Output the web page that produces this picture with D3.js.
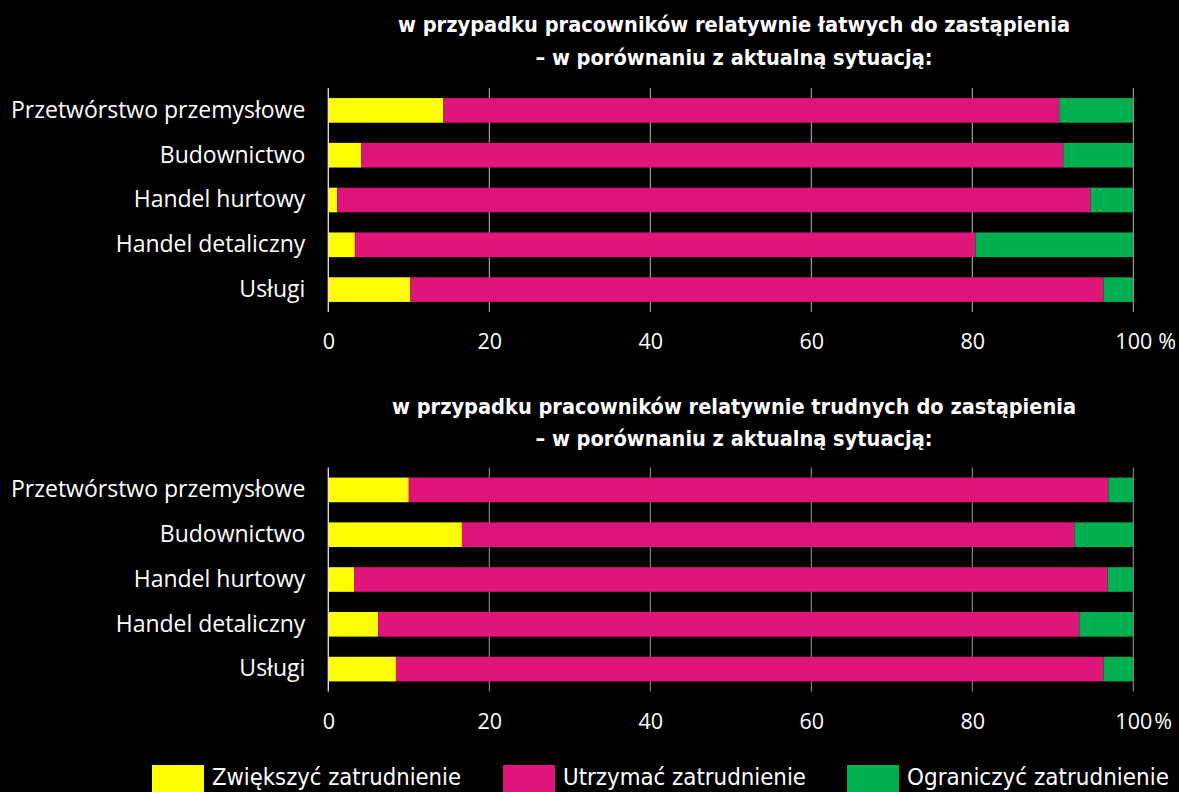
<!DOCTYPE html>
<html>
<head>
<meta charset="utf-8">
<script src="https://cdn.jsdelivr.net/npm/d3@7"></script>
<style>
  html, body { margin: 0; padding: 0; background: #000; }
  svg { display: block; }
</style>
</head>
<body>
<svg id="chart" width="1179" height="792"></svg>
<script>
const categories = ["Przetwórstwo przemysłowe", "Budownictwo", "Handel hurtowy", "Handel detaliczny", "Usługi"];
const seriesNames = ["Zwiększyć zatrudnienie", "Utrzymać zatrudnienie", "Ograniczyć zatrudnienie"];
const colors = ["#FFFF00", "#DF1579", "#00AF50"];

// Panel 1: łatwych do zastąpienia
const easyIncrease = [14.3, 4.1, 1.1, 3.3, 10.2];
const easyKeep     = [76.5, 87.2, 93.6, 77.1, 86.1];
const easyReduce   = [9.2, 8.7, 5.3, 19.6, 3.7];

// Panel 2: trudnych do zastąpienia
const hardIncrease = [10.0, 16.6, 3.2, 6.2, 8.4];
const hardKeep     = [86.9, 76.1, 93.6, 87.1, 87.9];
const hardReduce   = [3.1, 7.3, 3.2, 6.7, 3.7];

const tickValues = [0, 20, 40, 60, 80, 100];

const title1 = ["w przypadku pracowników relatywnie łatwych do zastąpienia", "– w porównaniu z aktualną sytuacją:"];
const title2 = ["w przypadku pracowników relatywnie trudnych do zastąpienia", "– w porównaniu z aktualną sytuacją:"];

const svg = d3.select("#chart");
const labelFont = "'Open Sans', 'Noto Sans', sans-serif";
const condFont = "'Liberation Sans Narrow', 'DejaVu Sans Condensed', 'Roboto', sans-serif";

const x = d3.scaleLinear().domain([0, 100]).range([328.3, 1133.3]);

function panel(cfg) {
  const { inc, keep, red, y0, y1, titleLines, titleY, titleW, tickLabelY, gridColor, pctGap } = cfg;
  const y = d3.scaleBand().domain(categories).range([y0, y1]).paddingInner(0.45).paddingOuter(0.225);
  const g = svg.append("g");

  // title
  titleLines.forEach((t, i) => {
    g.append("text")
      .attr("x", 734).attr("y", titleY[i])
      .attr("text-anchor", "middle")
      .attr("fill", "#fff")
      .attr("font-family", condFont)
      .attr("font-weight", "bold")
      .attr("font-size", 22)
      .attr("textLength", titleW[i])
      .attr("lengthAdjust", "spacingAndGlyphs")
      .text(t);
  });

  // gridlines
  g.append("g").selectAll("line").data(tickValues.slice(1)).join("line")
    .attr("x1", d => x(d)).attr("x2", d => x(d))
    .attr("y1", y0).attr("y2", y1)
    .attr("stroke", gridColor).attr("stroke-width", 1);

  // bars
  const rows = categories.map((c, i) => ({ c, vals: [inc[i], keep[i], red[i]] }));
  const stackData = rows.map(r => {
    let acc = 0;
    return r.vals.map((v, k) => { const s = acc; acc += v; return { c: r.c, k, s, e: acc }; });
  }).flat();
  g.append("g").selectAll("rect").data(stackData).join("rect")
    .attr("x", d => x(d.s))
    .attr("width", d => x(d.e) - x(d.s))
    .attr("y", d => y(d.c))
    .attr("height", y.bandwidth())
    .attr("fill", d => colors[d.k]);

  // zero line
  g.append("line")
    .attr("x1", x(0)).attr("x2", x(0))
    .attr("y1", y0).attr("y2", y1)
    .attr("stroke", "#e6e6e6").attr("stroke-width", 1.3);

  // category labels
  const yAxis = g.append("g").attr("transform", `translate(${x(0)},0)`)
    .call(d3.axisLeft(y).tickSize(0).tickPadding(23));
  yAxis.select(".domain").remove();
  yAxis.selectAll("text")
    .attr("fill", "#fff")
    .attr("font-family", labelFont)
    .attr("font-size", 23);

  // x tick labels
  const xAxis = g.append("g").attr("transform", `translate(0,${tickLabelY})`)
    .call(d3.axisBottom(x).tickValues(tickValues).tickSize(0).tickPadding(0).tickFormat(d3.format("d")));
  xAxis.select(".domain").remove();
  xAxis.selectAll("text")
    .attr("fill", "#fff")
    .attr("font-family", labelFont)
    .attr("font-size", 21.5)
    .attr("dy", "0");
  g.append("text")
    .attr("x", x(100) + pctGap).attr("y", tickLabelY)
    .attr("fill", "#fff")
    .attr("font-family", labelFont)
    .attr("font-size", 21.5)
    .text("%");
}

panel({ inc: easyIncrease, keep: easyKeep, red: easyReduce, y0: 88, y1: 312,
  titleLines: title1, titleY: [32, 65], titleW: [672, 397], tickLabelY: 349, gridColor: "#bcbcbc", pctGap: 25 });
panel({ inc: hardIncrease, keep: hardKeep, red: hardReduce, y0: 467.5, y1: 691.5,
  titleLines: title2, titleY: [414, 446], titleW: [684, 397], tickLabelY: 729, gridColor: "#9a9a9a", pctGap: 21 });

// legend
const legendX = [152, 503, 847];
const legendW = [249, 243, 262];
const leg = svg.append("g");
seriesNames.forEach((n, i) => {
  leg.append("rect").attr("x", legendX[i]).attr("y", 765).attr("width", 52).attr("height", 30).attr("fill", colors[i]);
  leg.append("text").attr("x", legendX[i] + 60).attr("y", 785)
    .attr("fill", "#fff")
    .attr("font-family", condFont)
    .attr("font-size", 23)
    .attr("textLength", legendW[i])
    .attr("lengthAdjust", "spacingAndGlyphs")
    .text(n);
});
</script>
</body>
</html>
